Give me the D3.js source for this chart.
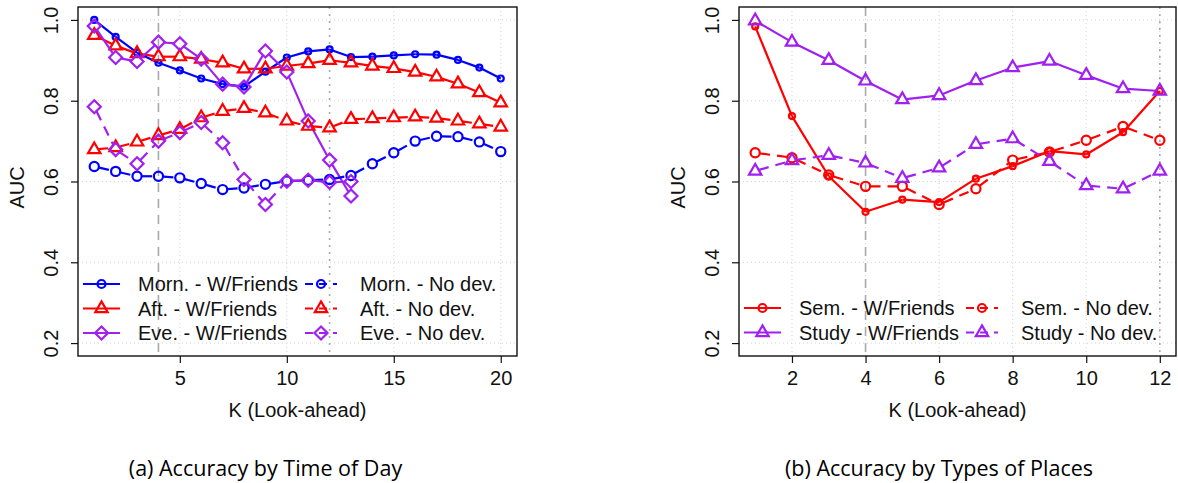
<!DOCTYPE html>
<html><head><meta charset="utf-8">
<script src="https://cdn.jsdelivr.net/npm/d3@7"></script>
<style>body{margin:0;background:#fff}svg{display:block}</style>
</head><body>
<svg id="c" width="1178" height="483"></svg>
<script>
// ---------- data ----------
const kLeft = [1,2,3,4,5,6,7,8,9,10,11,12,13,14,15,16,17,18,19,20];
const kEve  = [1,2,3,4,5,6,7,8,9,10,11,12,13];
const kRight = [1,2,3,4,5,6,7,8,9,10,11,12];

const mornWF = [1.000,0.958,0.919,0.894,0.875,0.855,0.841,0.835,0.872,0.907,0.922,0.927,0.908,0.909,0.912,0.915,0.914,0.901,0.882,0.855];
const aftWF  = [0.962,0.936,0.917,0.909,0.909,0.903,0.894,0.879,0.879,0.886,0.892,0.900,0.894,0.886,0.880,0.871,0.859,0.842,0.820,0.795];
const eveWF  = [0.985,0.907,0.897,0.945,0.941,0.903,0.841,0.834,0.923,0.871,0.750,0.653,0.564];
const mornND = [0.637,0.625,0.613,0.613,0.609,0.595,0.580,0.584,0.593,0.601,0.603,0.605,0.615,0.644,0.671,0.700,0.712,0.711,0.698,0.674];
const aftND  = [0.679,0.684,0.698,0.714,0.729,0.758,0.774,0.781,0.770,0.750,0.737,0.733,0.754,0.756,0.758,0.760,0.757,0.750,0.743,0.735];
const eveND  = [0.785,0.679,0.644,0.700,0.721,0.746,0.696,0.605,0.543,0.601,0.603,0.598,0.600];

const semWF   = [0.984,0.762,0.613,0.525,0.555,0.549,0.607,0.638,0.675,0.667,0.722,0.824];
const studyWF = [0.998,0.945,0.900,0.849,0.803,0.813,0.850,0.882,0.898,0.863,0.830,0.824];
const semND   = [0.671,0.659,0.616,0.588,0.588,0.543,0.582,0.653,0.673,0.702,0.736,0.702];
const studyND = [0.626,0.652,0.665,0.646,0.608,0.634,0.692,0.706,0.650,0.590,0.582,0.626];

const yTicks = [0.2,0.4,0.6,0.8,1.0];
const yTickLabels = ["0.2","0.4","0.6","0.8","1.0"];
const xTicksLeft = [5,10,15,20];
const xTicksRight = [2,4,6,8,10,12];
const refLines = [4,12];

const legendLeft = ["Morn. - W/Friends","Aft. - W/Friends","Eve. - W/Friends","Morn. - No dev.","Aft. - No dev.","Eve. - No dev."];
const legendRight = ["Sem. - W/Friends","Study - W/Friends","Sem. - No dev.","Study - No dev."];
const captions = ["(a) Accuracy by Time of Day","(b) Accuracy by Types of Places"];
const yTitle = "AUC";
const xTitle = "K (Look-ahead)";

// ---------- styling ----------
const BLUE = "#0000ff", RED = "#ff0000", PURPLE = "#a020f0";
const DASH = "10,7";
const svg = d3.select("#c");
const FONT = "'Liberation Sans', Arial, Helvetica, sans-serif";

function symbolPath(shape, R) {
  if (shape === "tri") {
    const r = 1.555 * R, xc = 1.347 * R, yc = 0.778 * R;
    return `M0,${-r}L${xc},${yc}L${-xc},${yc}Z`;
  }
  if (shape === "dia") {
    const h = Math.SQRT2 * R;
    return `M0,${-h}L${h},0L0,${h}L${-h},0Z`;
  }
  return null;
}
function drawSymbol(g, shape, R, x, y, color) {
  if (shape === "circ") {
    g.append("circle").attr("cx", x).attr("cy", y).attr("r", R)
      .attr("fill", "none").attr("stroke", color).attr("stroke-width", 2.2);
  } else {
    g.append("path").attr("d", symbolPath(shape, R)).attr("transform", `translate(${x},${y})`)
      .attr("fill", "none").attr("stroke", color).attr("stroke-width", 2.2).attr("stroke-linejoin", "miter");
  }
}

function panel(cfg) {
  const g = svg.append("g");
  const x = d3.scaleLinear().domain(cfg.xDomain).range([cfg.left, cfg.right]);
  const y = d3.scaleLinear().domain([0.168, 1.032]).range([356, 7]);
  const L = cfg.left, Rt = cfg.right, T = 7, B = 356;

  // grid
  g.append("g").selectAll("line").data(cfg.xTicks).join("line")
    .attr("x1", d => x(d)).attr("x2", d => x(d)).attr("y1", T).attr("y2", B)
    .attr("stroke", "#d3d3d3").attr("stroke-width", 1).attr("stroke-dasharray", "1,3");
  g.append("g").selectAll("line").data(yTicks).join("line")
    .attr("x1", L).attr("x2", Rt).attr("y1", d => y(d)).attr("y2", d => y(d))
    .attr("stroke", "#d3d3d3").attr("stroke-width", 1).attr("stroke-dasharray", "1,3");
  // reference lines
  g.append("line").attr("x1", x(refLines[0])).attr("x2", x(refLines[0])).attr("y1", T).attr("y2", B)
    .attr("stroke", "#aaaaaa").attr("stroke-width", 1.6).attr("stroke-dasharray", "9,7");
  g.append("line").attr("x1", x(refLines[1])).attr("x2", x(refLines[1])).attr("y1", T).attr("y2", B)
    .attr("stroke", "#aaaaaa").attr("stroke-width", 1.6).attr("stroke-dasharray", "2,5");

  // series
  cfg.series.forEach(s => {
    const pts = s.k.map((k, i) => [x(k), y(s.v[i])]);
    const sg = g.append("g");
    const gap = s.gap;
    for (let i = 0; i < pts.length - 1; i++) {
      const [x0, y0] = pts[i], [x1, y1] = pts[i + 1];
      const dx = x1 - x0, dy = y1 - y0, d = Math.hypot(dx, dy);
      if (d <= 2 * gap) continue;
      const ux = dx / d, uy = dy / d;
      sg.append("line").attr("x1", x0 + ux * gap).attr("y1", y0 + uy * gap)
        .attr("x2", x1 - ux * gap).attr("y2", y1 - uy * gap)
        .attr("stroke", s.color).attr("stroke-width", 2.2)
        .attr("stroke-dasharray", s.dash ? DASH : null);
    }
    pts.forEach(p => drawSymbol(sg, s.shape, s.R, p[0], p[1], s.color));
  });

  // box
  g.append("rect").attr("x", L).attr("y", T).attr("width", Rt - L).attr("height", B - T)
    .attr("fill", "none").attr("stroke", "#111").attr("stroke-width", 1.4);

  // axes
  const ya = d3.axisLeft(y).tickValues(yTicks).tickFormat((d, i) => yTickLabels[i]).tickSize(7).tickPadding(0);
  const yg = g.append("g").attr("transform", `translate(${L},0)`).call(ya);
  yg.select(".domain").remove();
  yg.selectAll(".tick line").attr("stroke", "#111").attr("stroke-width", 1.2);
  yg.selectAll(".tick text").attr("x", null).attr("dy", null)
    .attr("transform", "translate(-27,0) rotate(-90)")
    .attr("text-anchor", "middle").attr("dominant-baseline", "central")
    .attr("font-family", FONT).attr("font-size", 20).attr("fill", "#111");

  const xa = d3.axisBottom(x).tickValues(cfg.xTicks).tickSize(7).tickPadding(0);
  const xg = g.append("g").attr("transform", `translate(0,${B})`).call(xa);
  xg.select(".domain").remove();
  xg.selectAll(".tick line").attr("stroke", "#111").attr("stroke-width", 1.2);
  xg.selectAll(".tick text").attr("y", 22).attr("dy", null)
    .attr("dominant-baseline", "central")
    .attr("font-family", FONT).attr("font-size", 20).attr("fill", "#111");

  // titles
  g.append("text").attr("transform", `translate(${L - 61},${(T + B) / 2 + 6}) rotate(-90)`)
    .attr("text-anchor", "middle").attr("dominant-baseline", "central")
    .attr("font-family", FONT).attr("font-size", 20).attr("fill", "#111").text(yTitle);
  g.append("text").attr("x", (L + Rt) / 2).attr("y", 410)
    .attr("text-anchor", "middle").attr("dominant-baseline", "central")
    .attr("font-family", FONT).attr("font-size", 20).attr("fill", "#111").text(xTitle);

  // legend
  const lg = g.append("g");
  cfg.legend.forEach((item, i) => {
    const col = Math.floor(i / cfg.rows), row = i % cfg.rows;
    const cx0 = L + (col === 0 ? 5 : 227), cx1 = L + (col === 0 ? 42 : 259);
    const tx = L + (col === 0 ? 60 : 282);
    const yy = cfg.legendY + row * 24.5;
    const s = cfg.series[i];
    lg.append("line").attr("x1", cx0).attr("x2", cx1).attr("y1", yy).attr("y2", yy)
      .attr("stroke", s.color).attr("stroke-width", 2.2)
      .attr("stroke-dasharray", s.dash ? "8,6" : null);
    drawSymbol(lg, s.shape, s.shape === "circ" ? 4 : s.R, (cx0 + cx1) / 2, yy, s.color);
    lg.append("text").attr("x", tx).attr("y", yy).attr("dominant-baseline", "central")
      .attr("font-family", FONT).attr("font-size", 20).attr("fill", "#111").text(item);
  });

  // caption
  svg.append("text").attr("x", cfg.capX).attr("y", 467).attr("text-anchor", "middle")
    .attr("dominant-baseline", "central")
    .attr("font-family", "'Open Sans', Lato, sans-serif").attr("font-size", 21.5).attr("fill", "#000")
    .text(cfg.caption);
}

const BIG = 4.6, SMALL = 3.0;
panel({
  left: 78, right: 517, xDomain: [0.24, 20.76], xTicks: xTicksLeft,
  series: [
    {k: kLeft, v: mornWF, color: BLUE,   dash: false, shape: "circ", R: SMALL, gap: 0},
    {k: kLeft, v: aftWF,  color: RED,    dash: false, shape: "tri",  R: BIG,   gap: 4},
    {k: kEve,  v: eveWF,  color: PURPLE, dash: false, shape: "dia",  R: BIG,   gap: 5},
    {k: kLeft, v: mornND, color: BLUE,   dash: true,  shape: "circ", R: BIG,   gap: 5},
    {k: kLeft, v: aftND,  color: RED,    dash: true,  shape: "tri",  R: BIG,   gap: 4},
    {k: kEve,  v: eveND,  color: PURPLE, dash: true,  shape: "dia",  R: BIG,   gap: 5}
  ],
  legend: legendLeft, rows: 3, legendY: 284, capX: 265.5, caption: captions[0]
});
panel({
  left: 739, right: 1176, xDomain: [0.56, 12.44], xTicks: xTicksRight,
  series: [
    {k: kRight, v: semWF,   color: RED,    dash: false, shape: "circ", R: SMALL, gap: 0},
    {k: kRight, v: studyWF, color: PURPLE, dash: false, shape: "tri",  R: BIG,   gap: 4},
    {k: kRight, v: semND,   color: RED,    dash: true,  shape: "circ", R: BIG,   gap: 5},
    {k: kRight, v: studyND, color: PURPLE, dash: true,  shape: "tri",  R: BIG,   gap: 4}
  ],
  legend: legendRight, rows: 2, legendY: 308, capX: 939, caption: captions[1]
});
</script>
</body></html>
